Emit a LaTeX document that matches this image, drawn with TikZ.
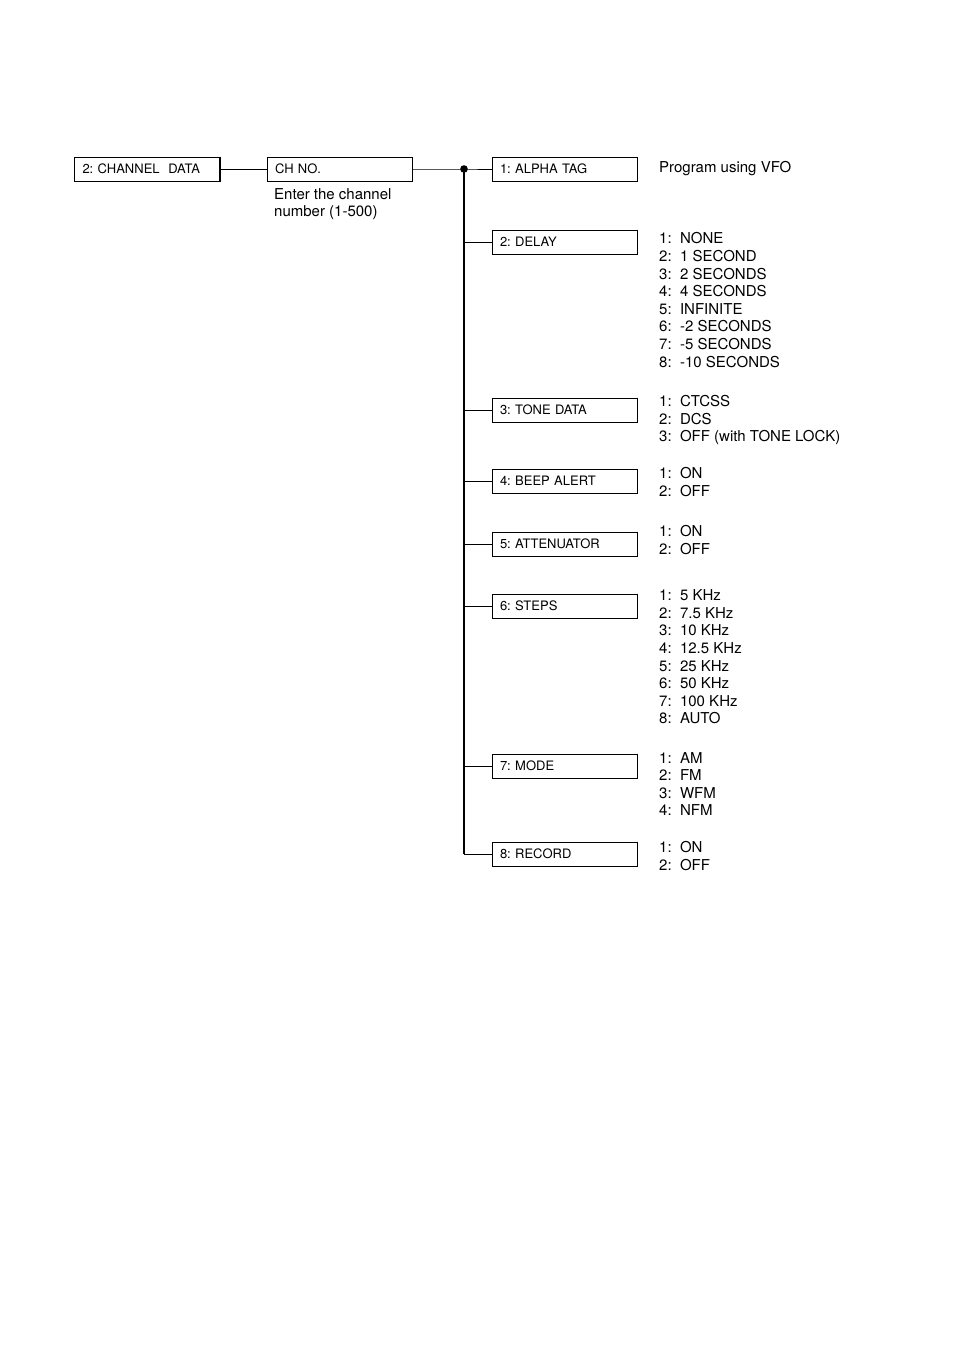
\documentclass[tikz,border=0pt]{standalone}
\usepackage{fontspec}
\setmainfont{TeX Gyre Heros}
\usepackage{tikz}

\tikzset{
  menubox/.style={draw, line width=1pt, minimum width=145pt, minimum height=24pt,
    text width=129pt, align=left, inner sep=0pt,
    font=\fontsize{13}{15}\selectfont\frenchspacing},
  choices/.style={anchor=north west, align=left, inner sep=0pt,
    font=\fontsize{15}{17.6}\selectfont},
  branch/.style={line width=1pt}
}

\begin{document}
\begin{tikzpicture}[x=1pt,y=-1pt]
\useasboundingbox (0,0) rectangle (954,1352);

\node[menubox] (chdata) at (147,169) {2: CHANNEL\ \ DATA};
\node[menubox] (chno) at (339.5,169) {CH NO.};
\node[choices, anchor=north west] (chnote) at (274,188) {Enter the channel\\number (1-500)};

\coordinate (junction) at (464,169);

\node[menubox] (alpha) at (564.5,169) {1: ALPHA TAG};
\node[menubox] (delay) at (564.5,242) {2: DELAY};
\node[menubox] (tone) at (564.5,410) {3: TONE DATA};
\node[menubox] (beep) at (564.5,481) {4: BEEP ALERT};
\node[menubox] (atten) at (564.5,544) {5: ATTENUATOR};
\node[menubox] (steps) at (564.5,606) {6: STEPS};
\node[menubox] (mode) at (564.5,766) {7: MODE};
\node[menubox] (rec) at (564.5,854) {8: RECORD};

% heavier lower and right edges
\foreach \b in {chdata,chno,alpha,delay,tone,beep,atten,steps,mode,rec}
  \draw[line width=1.6pt] (\b.north east) -- (\b.south east) -- (\b.south west);

% connectors
\draw[branch] (chdata) -- (chno);
\draw[branch] (chno) -- (junction) -- (alpha);
\draw[line width=1.7pt] (junction) -- (junction |- rec.west);
\foreach \b in {delay,tone,beep,atten,steps,mode,rec}
  \draw[branch] (junction |- \b.west) -- (\b.west);
\fill (junction) circle (3.8);

% settings
\node[choices, anchor=west] (alphaset) at (659,169) {Program using VFO};
\node[choices] (delayset) at (659,232.5) {1:\ \ NONE\\2:\ \ 1 SECOND\\3:\ \ 2 SECONDS\\4:\ \ 4 SECONDS\\5:\ \ INFINITE\\6:\ \ -2 SECONDS\\7:\ \ -5 SECONDS\\8:\ \ -10 SECONDS};
\node[choices] (toneset) at (659,395) {1:\ \ CTCSS\\2:\ \ DCS\\3:\ \ OFF (with TONE LOCK)};
\node[choices] (beepset) at (659,467.5) {1:\ \ ON\\2:\ \ OFF};
\node[choices] (attenset) at (659,525.5) {1:\ \ ON\\2:\ \ OFF};
\node[choices] (stepsset) at (659,589.5) {1:\ \ 5 KHz\\2:\ \ 7.5 KHz\\3:\ \ 10 KHz\\4:\ \ 12.5 KHz\\5:\ \ 25 KHz\\6:\ \ 50 KHz\\7:\ \ 100 KHz\\8:\ \ AUTO};
\node[choices] (modeset) at (659,752) {1:\ \ AM\\2:\ \ FM\\3:\ \ WFM\\4:\ \ NFM};
\node[choices] (recset) at (659,841) {1:\ \ ON\\2:\ \ OFF};

\end{tikzpicture}
\end{document}
